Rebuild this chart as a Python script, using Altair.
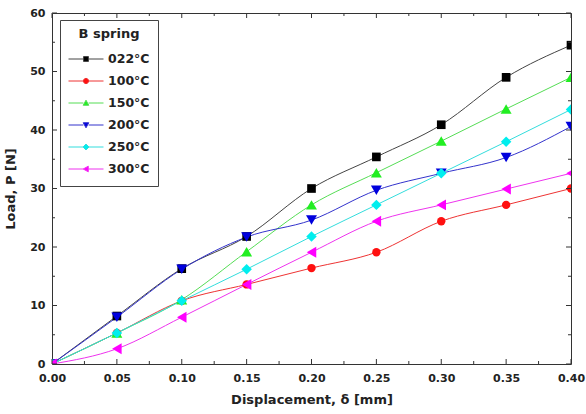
import altair as alt
import pandas as pd

series = ["022°C", "100°C", "150°C", "200°C", "250°C", "300°C"]
disp = [0.00, 0.05, 0.10, 0.15, 0.20, 0.25, 0.30, 0.35, 0.40]
load_022 = [0.0, 8.2, 16.3, 21.8, 30.0, 35.4, 40.9, 49.0, 54.5]
load_100 = [0.0, 5.3, 10.8, 13.6, 16.4, 19.1, 24.4, 27.2, 30.0]
load_150 = [0.0, 5.3, 11.0, 19.2, 27.2, 32.7, 38.1, 43.6, 49.0]
load_200 = [0.0, 8.0, 16.2, 21.7, 24.6, 29.7, 32.6, 35.3, 40.6]
load_250 = [0.0, 5.3, 10.8, 16.2, 21.8, 27.2, 32.6, 38.0, 43.5]
load_300 = [0.0, 2.6, 8.0, 13.6, 19.1, 24.4, 27.2, 29.9, 32.6]
colors = ["#000000", "#ff1010", "#22ee22", "#0000dd", "#00eeee", "#ff00ff"]
line_colors = ["#444444", "#ee3333", "#55dd55", "#3333cc", "#33dddd", "#ee33ee"]
shapes = ["square", "circle", "triangle-up", "triangle-down", "diamond", "triangle-left"]
marker_sizes = [75, 70, 120, 120, 110, 120]

x_major = [0.00, 0.05, 0.10, 0.15, 0.20, 0.25, 0.30, 0.35, 0.40]
x_minor = [0.025, 0.075, 0.125, 0.175, 0.225, 0.275, 0.325, 0.375]
y_major = [0, 10, 20, 30, 40, 50, 60]
y_minor = [5, 15, 25, 35, 45, 55]

all_loads = [load_022, load_100, load_150, load_200, load_250, load_300]
rows = []
for s, vals, ms in zip(series, all_loads, marker_sizes):
    for d, v in zip(disp, vals):
        rows.append({"series": s, "disp": d, "load": v, "msize": ms})
df = pd.DataFrame(rows)

W, H = 519, 351
FONT = "DejaVu Sans"
AX = "#333333"

# legend symbols: line through marker
h = 0.14
marker_paths = [
    f"M{-h},{-h}L{h},{-h}L{h},{h}L{-h},{h}Z",
    "M-0.15,0A0.15,0.15,0,1,1,0.15,0A0.15,0.15,0,1,1,-0.15,0Z",
    "M0,-0.16L0.16,0.13L-0.16,0.13Z",
    "M0,0.16L0.16,-0.13L-0.16,-0.13Z",
    "M0,-0.17L0.17,0L0,0.17L-0.17,0Z",
    "M-0.16,0L0.13,-0.16L0.13,0.16Z",
]
legend_paths = ["M-1,0L-0.15,0M0.15,0L1,0" + p for p in marker_paths]

xs = alt.Scale(domain=[0, 0.4], nice=False, zero=False)
ys = alt.Scale(domain=[0, 60], nice=False)

x_axis = alt.Axis(title="Displacement, δ [mm]", values=x_major, format=".2f",
                  labelFlush=False, labelOverlap=False,
                  ticks=False, grid=False, domain=False,
                  labelFont=FONT, labelFontWeight="bold", labelFontSize=11,
                  labelColor="#222222", labelPadding=8,
                  titleFont=FONT, titleFontWeight="bold", titleFontSize=13,
                  titleColor="#222222", titlePadding=10)
y_axis = alt.Axis(title="Load, P [N]", values=y_major,
                  labelOverlap=False,
                  ticks=False, grid=False, domain=False,
                  labelFont=FONT, labelFontWeight="bold", labelFontSize=11,
                  labelColor="#222222", labelPadding=7,
                  titleFont=FONT, titleFontWeight="bold", titleFontSize=13,
                  titleColor="#222222", titlePadding=12)

base = alt.Chart(df)

lines = base.mark_line(interpolate="monotone", strokeWidth=1, clip=True).encode(
    x=alt.X("disp:Q", scale=xs, axis=x_axis),
    y=alt.Y("load:Q", scale=ys, axis=y_axis),
    color=alt.Color("series:N", scale=alt.Scale(domain=series, range=line_colors), legend=None),
    detail="series:N",
)

points = base.mark_point(filled=True, opacity=1, clip=True).encode(
    x=alt.X("disp:Q", scale=xs, axis=x_axis),
    y=alt.Y("load:Q", scale=ys, axis=y_axis),
    fill=alt.Fill("series:N", scale=alt.Scale(domain=series, range=colors), legend=None),
    shape=alt.Shape("series:N", scale=alt.Scale(domain=series, range=shapes), legend=None),
    size=alt.Size("msize:Q", scale=None, legend=None),
)

legend_layer = base.mark_point(filled=True, size=0, opacity=0).encode(
    x=alt.X("disp:Q", scale=xs, axis=x_axis),
    y=alt.Y("load:Q", scale=ys, axis=y_axis),
    fill=alt.Fill("series:N", scale=alt.Scale(domain=series, range=colors),
                  legend=alt.Legend(title="B spring")),
    stroke=alt.Stroke("series:N", scale=alt.Scale(domain=series, range=line_colors),
                      legend=alt.Legend(title="B spring")),
    shape=alt.Shape("series:N", scale=alt.Scale(domain=series, range=legend_paths),
                    legend=alt.Legend(title="B spring")),
)

xt_major = pd.DataFrame({"v": x_major})
xt_minor = pd.DataFrame({"v": x_minor})
yt_major = pd.DataFrame({"v": y_major})
yt_minor = pd.DataFrame({"v": y_minor})


def xticks(data, y0, y1):
    return alt.Chart(data).mark_rule(color=AX, strokeWidth=1).encode(
        x=alt.X("v:Q", scale=xs, axis=x_axis),
        y=alt.value(y0), y2=alt.value(y1),
    )


def yticks(data, x0, x1):
    return alt.Chart(data).mark_rule(color=AX, strokeWidth=1).encode(
        y=alt.Y("v:Q", scale=ys, axis=y_axis),
        x=alt.value(x0), x2=alt.value(x1),
    )


tick_layers = [
    xticks(xt_major, H, H - 5), xticks(xt_minor, H, H - 3),
    xticks(xt_major, 0, 5), xticks(xt_minor, 0, 3),
    yticks(yt_major, 0, 5), yticks(yt_minor, 0, 3),
    yticks(yt_major, W, W - 5), yticks(yt_minor, W, W - 3),
]

chart = alt.layer(lines, points, legend_layer, *tick_layers).resolve_scale(
    shape="independent", fill="independent", stroke="independent"
).properties(
    width=W, height=H,
    autosize=alt.AutoSizeParams(type="none"),
    padding={"left": 52, "top": 13, "right": 15, "bottom": 50},
).configure_view(
    stroke=AX, strokeWidth=1
).configure_legend(
    orient="none", legendX=8, legendY=7,
    strokeColor="#444444", fillColor="white", padding=8,
    titleFont=FONT, titleFontWeight="bold", titleFontSize=13, titleColor="#222222",
    titleAnchor="middle", titlePadding=9,
    labelFont=FONT, labelFontWeight="bold", labelFontSize=12.5, labelColor="#222222",
    symbolSize=1225, symbolStrokeWidth=1, symbolOpacity=1,
    clipHeight=18, rowPadding=4, labelOffset=4,
)

chart.save("out.html", embed_options={"renderer": "svg", "actions": False})
